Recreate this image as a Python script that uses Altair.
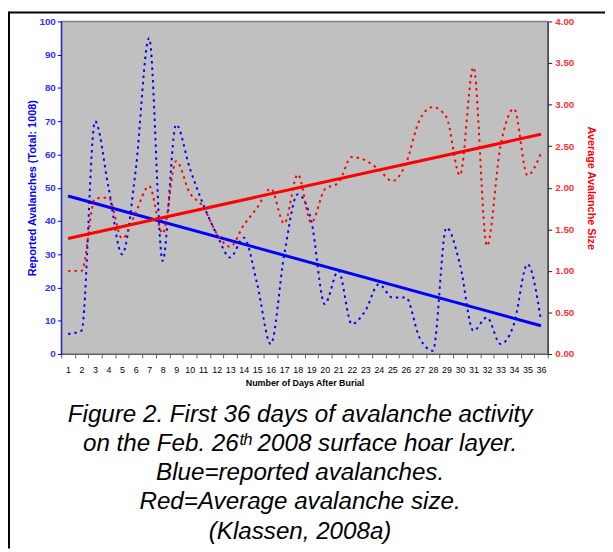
import altair as alt
import pandas as pd

days = list(range(1, 37))
reported = [6, 7, 70, 50, 30, 55, 95, 28, 69, 56, 45, 36, 29, 35, 21, 3, 30, 48,
            40, 15, 25, 9, 13, 21, 17, 17, 5, 1, 38, 27, 7, 11, 3, 9, 27, 10]
avg_size = [1.00, 1.00, 1.87, 1.88, 1.39, 1.70, 2.02, 1.45, 2.32, 1.94, 1.77, 1.45,
            1.29, 1.55, 1.76, 1.99, 1.57, 2.16, 1.58, 1.98, 2.06, 2.37, 2.33, 2.22,
            2.08, 2.29, 2.81, 2.97, 2.85, 2.15, 3.45, 1.30, 2.50, 2.95, 2.15, 2.42]
left_ticks = list(range(0, 101, 10))
right_ticks = [0.0, 0.5, 1.0, 1.5, 2.0, 2.5, 3.0, 3.5, 4.0]
x_ticks = [i + 0.5 for i in range(0, 37)]
caption = [
    "Figure 2. First 36 days of avalanche activity",
    "on the Feb. 26\u1d57\u02b0 2008 surface hoar layer.",
    "Blue=reported avalanches.",
    "Red=Average avalanche size.",
    "(Klassen, 2008a)",
]

df = pd.DataFrame({"day": days, "reported": reported, "size": avg_size})
FONT = "Liberation Sans"

x_enc = alt.X(
    "day:Q",
    scale=alt.Scale(domain=[0.5, 36.5], nice=False, zero=False),
    axis=alt.Axis(
        values=x_ticks,
        labelExpr="datum.value > 36 ? '' : format(datum.value + 0.5, 'd')",
        labelOffset=6.85, labelFlush=False, labelOverlap=False, labelBound=False,
        title="Number of Days After Burial", titleFont=FONT, titleFontSize=9,
        titleFontWeight="bold", titleColor="#000000", titlePadding=4,
        labelFont=FONT, labelFontSize=9, labelColor="#000000", labelPadding=8,
        domainColor="#606060", tickColor="#606060", tickSize=4, grid=False,
    ),
)

y_left = alt.Y(
    "reported:Q",
    scale=alt.Scale(domain=[0, 100], nice=False),
    axis=alt.Axis(
        orient="left", values=left_ticks, format="d", labelOverlap=False,
        title="Reported Avalanches (Total: 1008)", titleColor="#0000FF", titleFont=FONT,
        titleFontSize=11, titleFontWeight="bold", titlePadding=1,
        labelColor="#3333FF", labelFont=FONT, labelFontSize=10, labelFontWeight="bold",
        labelPadding=2, domainColor="#0000FF", tickColor="#0000FF", tickSize=4, grid=False,
    ),
)

y_right = alt.Y(
    "size:Q",
    scale=alt.Scale(domain=[0, 4], nice=False),
    axis=alt.Axis(
        orient="right", values=right_ticks, format=".2f", labelOverlap=False,
        title="Average Avalanche Size", titleColor="#FF0000", titleFont=FONT,
        titleFontSize=11, titleFontWeight="bold", titlePadding=12,
        labelColor="#FF3333", labelFont=FONT, labelFontSize=10, labelFontWeight="bold",
        labelPadding=3, domainColor="#202020", tickColor="#202020", tickSize=4, grid=False,
    ),
)

base = alt.Chart(df)

blue_dots = base.mark_line(color="#0000FF", strokeWidth=2, strokeDash=[2.5, 4],
                           interpolate="monotone").encode(x=x_enc, y=y_left)
blue_fit = base.transform_regression("day", "reported").mark_line(
    color="#0000FF", strokeWidth=3).encode(x=x_enc, y=y_left)

red_dots = base.mark_line(color="#FF0000", strokeWidth=2, strokeDash=[2.5, 4],
                          interpolate="monotone").encode(x=x_enc, y=y_right)
red_fit = base.transform_regression("day", "size").mark_line(
    color="#FF0000", strokeWidth=3).encode(x=x_enc, y=y_right)

deco = alt.Chart(pd.DataFrame({"k": [0]}))
frame_left = deco.mark_rule(color="#000000", strokeWidth=2).encode(
    x=alt.value(-53), y=alt.value(-10), y2=alt.value(534))
frame_top = deco.mark_rule(color="#000000", strokeWidth=2).encode(
    x=alt.value(-53), x2=alt.value(551), y=alt.value(-9))
cap = deco.mark_text(text=caption, font=FONT, fontSize=24.5, fontStyle="italic",
                     color="#000000", lineHeight=29.5, align="center",
                     baseline="top").encode(x=alt.value(242), y=alt.value(387))

chart = alt.layer(
    alt.layer(blue_dots, blue_fit),
    alt.layer(red_dots, red_fit),
    frame_left, frame_top, cap,
).resolve_scale(y="independent").properties(
    width=493, height=337, autosize="none",
    padding={"left": 54, "top": 10, "right": 58, "bottom": 197},
).configure_view(fill="#C0C0C0", stroke="#808080", strokeWidth=1.5)

chart.save("out.html", embed_options={"renderer": "svg", "actions": False})
